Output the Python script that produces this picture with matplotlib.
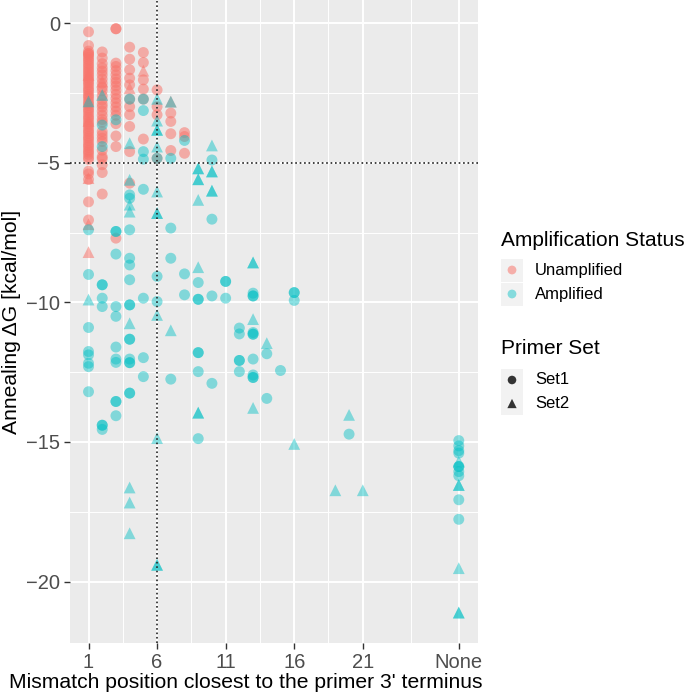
import matplotlib.pyplot as plt
from matplotlib.patches import Rectangle

plt.rcParams['font.family'] = ['Liberation Sans', 'DejaVu Sans']

RED = '#F8766D'
TEAL = '#00BFC4'
RED_ALPHA = 0.55
TEAL_ALPHA = 0.45
NONE_POS = 28

# Unamplified, primer Set1 (circles)
unamp_set1_x = ([1] * 57 + [2] * 28 + [3] * 20 + [4] * 11 + [5] * 6 + [6] * 4
                + [7] * 4 + [8] * 3)
unamp_set1_y = [
    # x = 1
    -0.31, -0.80, -1.00, -1.08, -1.15, -1.22, -1.30, -1.36, -1.45, -1.52,
    -1.60, -1.68, -1.75, -1.83, -1.90, -1.98, -2.05, -2.13, -2.20, -2.30,
    -2.38, -2.45, -2.55, -2.62, -2.70, -2.80, -2.88, -2.95, -3.05, -3.12,
    -3.20, -3.30, -3.38, -3.45, -3.55, -3.62, -3.70, -3.80, -3.88, -3.95,
    -4.05, -4.12, -4.20, -4.30, -4.38, -4.45, -4.55, -4.62, -4.70, -4.80,
    -4.88, -5.30, -5.40, -5.60, -6.40, -7.05, -1.10,
    # x = 2
    -1.03, -1.25, -1.45, -1.60, -1.72, -1.85, -2.00, -2.15, -2.30, -2.42,
    -2.60, -2.75, -2.90, -3.00, -3.15, -3.30, -3.45, -3.55, -3.88, -4.00,
    -4.12, -4.24, -4.55, -4.78, -4.85, -5.07, -5.35, -6.12,
    # x = 3
    -0.20, -0.20, -1.43, -1.55, -1.70, -1.85, -2.00, -2.12, -2.25, -2.40,
    -2.55, -2.70, -2.85, -3.00, -3.15, -3.30, -3.60, -4.04, -4.42, -7.70,
    # x = 4
    -0.86, -1.29, -1.67, -1.97, -2.21, -2.72, -2.99, -3.28, -3.70, -4.60,
    -5.73,
    # x = 5
    -1.05, -1.41, -2.03, -2.36, -2.72, -4.15,
    # x = 6
    -2.39, -2.99, -3.28, -4.84,
    # x = 7
    -3.22, -3.52, -3.96, -4.56,
    # x = 8
    -3.92, -4.06, -4.66,
]

# Unamplified, primer Set2 (triangles)
unamp_set2_x = [1, 1, 1, 1, 1, 2, 4, 5, 7]
unamp_set2_y = [-1.85, -3.50, -5.55, -7.20, -8.20, -2.09, -2.33, -1.70, -2.81]

# Amplified, primer Set1 (circles)
amp_set1_x = ([1] * 8 + [2] * 9 + [3] * 12 + [4] * 16 + [5] * 8 + [6] * 3
              + [7] * 4 + [8] * 3 + [9] * 7 + [10] * 4 + [11] * 3 + [12] * 5
              + [13] * 10 + [14] * 2 + [15] + [16] * 3 + [20] + ['None'] * 10)
amp_set1_y = [
    -7.40, -9.00, -10.90, -11.76, -11.88, -12.18, -12.30, -13.20,
    -3.65, -4.42, -9.37, -9.37, -9.85, -10.15, -14.40, -14.40, -14.55,
    -3.46, -7.46, -7.46, -8.27, -10.15, -10.50, -11.60, -12.03, -12.15,
    -13.55, -13.55, -14.06,
    -2.72, -6.15, -6.27, -7.40, -8.42, -8.66, -9.19, -10.09, -10.09, -11.32,
    -11.32, -12.03, -12.16, -12.16, -13.25, -13.25,
    -2.72, -3.13, -4.60, -4.87, -5.95, -9.85, -11.98, -12.66,
    -4.84, -9.07, -9.97,
    -4.84, -7.34, -8.42, -12.75,
    -4.20, -8.98, -9.73,
    -9.29, -9.89, -9.89, -11.80, -11.80, -12.48, -14.88,
    -4.90, -7.02, -9.77, -12.90,
    -9.25, -9.25, -9.85,
    -10.92, -11.13, -12.08, -12.08, -12.48,
    -9.67, -9.77, -9.77, -11.08, -11.14, -11.14, -12.03, -12.60, -12.69,
    -12.69,
    -11.84, -13.44,
    -12.44,
    -9.65, -9.65, -9.93,
    -14.72,
    -14.95, -15.14, -15.31, -15.40, -15.88, -15.88, -16.06, -16.21, -17.07,
    -17.77,
]

# Amplified, primer Set2 (triangles)
amp_set2_x = ([1] * 2 + [2] + [4] * 8 + [6] * 12 + [7] * 2 + [9] * 8
              + [10] * 5 + [13] * 4 + [14] + [16] + [19] + [20] + [21]
              + ['None'] * 6)
amp_set2_y = [
    -2.80, -9.90,
    -2.57,
    -4.30, -5.61, -6.50, -6.75, -10.75, -16.63, -17.17, -18.27,
    -2.71, -3.49, -3.82, -3.82, -4.42, -6.03, -6.80, -6.80, -10.45, -14.86,
    -19.40, -19.40,
    -2.81, -11.00,
    -5.20, -5.20, -5.59, -5.59, -6.33, -8.74, -13.95, -13.95,
    -4.38, -5.31, -5.31, -6.00, -6.00,
    -8.57, -8.57, -10.60, -13.78,
    -11.46,
    -15.07,
    -16.73,
    -14.03,
    -16.73,
    -15.70, -16.54, -16.54, -19.52, -21.11, -21.11,
]

x_ticks = [1, 6, 11, 16, 21, NONE_POS]
x_tick_labels = ['1', '6', '11', '16', '21', 'None']
y_ticks = [0, -5, -10, -15, -20]


def pos(xs):
    return [NONE_POS if v == 'None' else v for v in xs]


fig = plt.figure(figsize=(6.85, 6.93), dpi=100)
ax = fig.add_axes([70 / 685, 1 - 643 / 693, (477.7 - 70) / 685, 643 / 693])
ax.set_facecolor('#EBEBEB')

ax.scatter(pos(unamp_set1_x), unamp_set1_y, s=62, marker='o', color=RED,
           alpha=RED_ALPHA, edgecolors='none', zorder=3)
ax.scatter(pos(unamp_set2_x), unamp_set2_y, s=72, marker='^', color=RED,
           alpha=RED_ALPHA, edgecolors='none', zorder=3)
ax.scatter(pos(amp_set1_x), amp_set1_y, s=62, marker='o', color=TEAL,
           alpha=TEAL_ALPHA, edgecolors='none', zorder=3)
ax.scatter(pos(amp_set2_x), amp_set2_y, s=72, marker='^', color=TEAL,
           alpha=TEAL_ALPHA, edgecolors='none', zorder=3)

ax.axvline(6, color='#222222', ls=':', lw=1.2, zorder=4)
ax.axhline(-5, color='#222222', ls=':', lw=1.2, zorder=4)

ax.set_xlim(-0.35, 29.38)
ax.set_ylim(-22.2, 0.83)
ax.set_xticks(x_ticks)
ax.set_xticklabels(x_tick_labels)
ax.set_yticks(y_ticks)
ax.set_yticklabels(['0', '\u22125', '\u221210', '\u221215', '\u221220'])
ax.set_xticks([3.5, 8.5, 13.5, 18.5, 24.5], minor=True)
ax.set_yticks([-2.5, -7.5, -12.5, -17.5], minor=True)
ax.grid(which='major', color='white', lw=1.4, zorder=0)
ax.grid(which='minor', color='white', lw=0.7, zorder=0)
ax.set_axisbelow(True)
ax.tick_params(which='major', length=4, width=1, color='#333333',
               labelsize=14.5, labelcolor='#4D4D4D', pad=3)
ax.tick_params(which='minor', length=0)
for sp in ax.spines.values():
    sp.set_visible(False)

# axis titles placed in pixel terms, as in the original
fig.text(245.5 / 685, 1 - 682 / 693,
         "Mismatch position closest to the primer 3' terminus",
         fontsize=15.2, ha='center', va='center')
fig.text(12 / 685, 1 - 322 / 693, 'Annealing \u0394G [kcal/mol]',
         fontsize=15.2, ha='center', va='center', rotation=90)

# legend drawn in pixel coordinates
lax = fig.add_axes([0, 0, 1, 1])
lax.set_xlim(0, 685)
lax.set_ylim(693, 0)
lax.axis('off')

lax.text(501, 240, 'Amplification Status', fontsize=15, va='center')
for i, (lab, col, a) in enumerate([('Unamplified', RED, RED_ALPHA),
                                   ('Amplified', TEAL, TEAL_ALPHA)]):
    cy = 270 + i * 24
    lax.add_patch(Rectangle((501, cy - 11.5), 22, 23, color='#F2F2F2', lw=0))
    lax.scatter([512], [cy], s=40, color=col, alpha=a, edgecolors='none')
    lax.text(535, cy, lab, fontsize=12, va='center')

lax.text(501, 348, 'Primer Set', fontsize=15, va='center')
for i, (lab, mk) in enumerate([('Set1', 'o'), ('Set2', '^')]):
    cy = 380 + i * 23.5
    lax.add_patch(Rectangle((501, cy - 11.5), 22, 23, color='#F2F2F2', lw=0))
    lax.scatter([512], [cy], s=38 if mk == 'o' else 45, marker=mk,
                color='#333333', edgecolors='none')
    lax.text(535, cy, lab, fontsize=12, va='center')

fig.savefig('out.png', dpi=100)
